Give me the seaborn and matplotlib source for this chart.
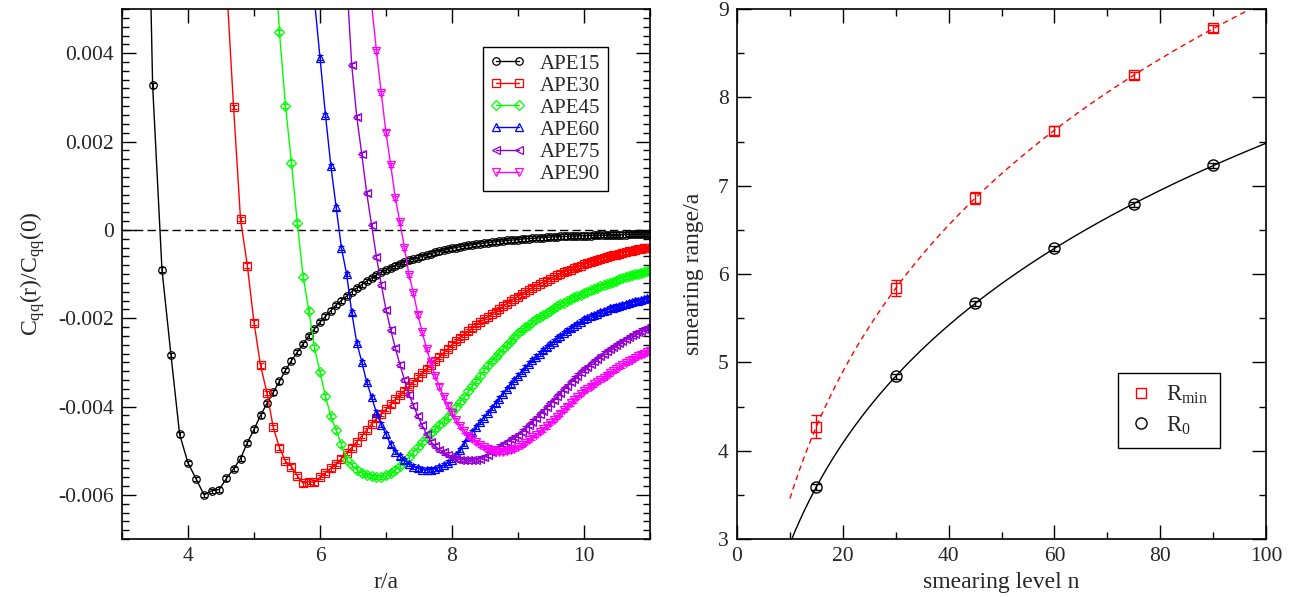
import numpy as np
import matplotlib
matplotlib.use("Agg")
import matplotlib.pyplot as plt
from matplotlib.lines import Line2D
from matplotlib.ticker import MultipleLocator, FuncFormatter
import seaborn as sns

# ---- left panel: C_qq(r)/C_qq(0), points sit at r/a = sqrt(k), k = k0, k0+1, ...
ape_labels = ["APE15", "APE30", "APE45", "APE60", "APE75", "APE90"]
ape_k0 = [11, 21, 28, 35, 41, 46]
# statistical error of each correlator point (about the same everywhere)
ape_err = [0.00005, 0.00005, 0.00005, 0.00005, 0.00005, 0.00005]

ape15 = [
    0.0139, 0.00327, -0.0009, -0.00283, -0.00463, -0.00528, -0.00564, -0.00600, -0.00591, -0.00588,
    -0.00563, -0.00541, -0.00518, -0.00482, -0.00452, -0.00420, -0.00393, -0.00368, -0.00343, -0.00318,
    -0.00296, -0.00277, -0.00258, -0.00240, -0.00224, -0.00209, -0.00196, -0.00183, -0.00170, -0.00160,
    -0.00150, -0.00140, -0.00132, -0.00124, -0.00116, -0.00109, -0.00102, -0.00096, -0.00091, -0.00086,
    -0.00081, -0.00077, -0.00073, -0.00069, -0.00066, -0.00063, -0.00060, -0.00057, -0.00054, -0.00051,
    -0.00049, -0.00046, -0.00044, -0.00042, -0.00040, -0.00038, -0.00037, -0.00035, -0.00034, -0.00032,
    -0.00031, -0.00030, -0.00029, -0.00028, -0.00027, -0.00026, -0.00025, -0.00024, -0.00023, -0.00023,
    -0.00022, -0.00021, -0.00020, -0.00020, -0.00019, -0.00019, -0.00018, -0.00018, -0.00017, -0.00016,
    -0.00016, -0.00016, -0.00015, -0.00015, -0.00015, -0.00014, -0.00014, -0.00014, -0.00013, -0.00013,
    -0.00013, -0.00013, -0.00012, -0.00012, -0.00012, -0.00012, -0.00012, -0.00011, -0.00011, -0.00011,
    -0.00011, -0.00011, -0.00011, -0.00010, -0.00010, -0.00010, -0.00010, -0.00010, -0.00010, -0.00010,
    -0.00010,
]
ape30 = [
    0.0056, 0.00278, 0.00024, -0.00081, -0.00210, -0.00307, -0.00369, -0.00447, -0.00493, -0.00524,
    -0.00536, -0.00557, -0.00574, -0.00570, -0.00572, -0.00560, -0.00550, -0.00540, -0.00530, -0.00518,
    -0.00505, -0.00493, -0.00480, -0.00467, -0.00453, -0.00440, -0.00427, -0.00416, -0.00406, -0.00395,
    -0.00384, -0.00374, -0.00364, -0.00354, -0.00344, -0.00334, -0.00324, -0.00314, -0.00305, -0.00296,
    -0.00287, -0.00278, -0.00269, -0.00260, -0.00252, -0.00244, -0.00237, -0.00230, -0.00223, -0.00216,
    -0.00209, -0.00203, -0.00197, -0.00191, -0.00185, -0.00179, -0.00173, -0.00167, -0.00161, -0.00156,
    -0.00151, -0.00146, -0.00141, -0.00136, -0.00131, -0.00127, -0.00123, -0.00119, -0.00115, -0.00111,
    -0.00107, -0.00103, -0.00099, -0.00096, -0.00093, -0.00090, -0.00087, -0.00084, -0.00081, -0.00078,
    -0.00076, -0.00073, -0.00071, -0.00068, -0.00066, -0.00064, -0.00062, -0.00060, -0.00058, -0.00056,
    -0.00054, -0.00052, -0.00050, -0.00049, -0.00047, -0.00046, -0.00044, -0.00043, -0.00042, -0.00041,
    -0.00040,
]
ape45 = [
    0.0069, 0.00448, 0.00281,
    0.00152, 0.00015, -0.00106, -0.00183, -0.00266, -0.00322, -0.00377, -0.00422, -0.00454, -0.00486,
    -0.00520, -0.00533, -0.00543, -0.00550, -0.00555, -0.00558, -0.00560, -0.00559, -0.00556, -0.00550,
    -0.00543, -0.00535, -0.00525, -0.00515, -0.00504, -0.00492, -0.00481, -0.00470, -0.00460, -0.00450,
    -0.00441, -0.00432, -0.00423, -0.00413, -0.00402, -0.00390, -0.00378, -0.00366, -0.00354, -0.00342,
    -0.00330, -0.00318, -0.00307, -0.00297, -0.00287, -0.00278, -0.00269, -0.00260, -0.00251, -0.00242,
    -0.00233, -0.00227, -0.00221, -0.00215, -0.00209, -0.00203, -0.00198, -0.00193, -0.00188, -0.00183,
    -0.00178, -0.00173, -0.00169, -0.00165, -0.00161, -0.00157, -0.00153, -0.00150, -0.00147, -0.00143,
    -0.00140, -0.00137, -0.00134, -0.00131, -0.00128, -0.00125, -0.00122, -0.00120, -0.00117, -0.00115,
    -0.00112, -0.00110, -0.00107, -0.00105, -0.00103, -0.00101, -0.00099, -0.00097, -0.00095, -0.00093,
    -0.00092,
]
ape60 = [
    0.0052, 0.0039, 0.0026, 0.00145, 0.00051, -0.00041,
    -0.00100, -0.00187, -0.00256, -0.00299, -0.00345, -0.00379, -0.00414, -0.00441, -0.00463, -0.00486,
    -0.00503, -0.00513, -0.00522, -0.00530, -0.00536, -0.00540, -0.00543, -0.00544, -0.00543, -0.00541,
    -0.00538, -0.00533, -0.00527, -0.00520, -0.00510, -0.00498, -0.00484, -0.00470, -0.00458, -0.00446,
    -0.00435, -0.00425, -0.00415, -0.00404, -0.00393, -0.00382, -0.00371, -0.00360, -0.00350, -0.00340,
    -0.00330, -0.00321, -0.00312, -0.00303, -0.00295, -0.00287, -0.00280, -0.00273, -0.00266, -0.00259,
    -0.00253, -0.00246, -0.00240, -0.00234, -0.00228, -0.00223, -0.00218, -0.00213, -0.00208, -0.00203,
    -0.00199, -0.00196, -0.00193, -0.00190, -0.00187, -0.00184, -0.00181, -0.00178, -0.00176, -0.00174,
    -0.00172, -0.00170, -0.00168, -0.00166, -0.00164, -0.00162, -0.00160, -0.00159, -0.00157, -0.00155,
    -0.00154,
]
ape75 = [
    0.0057, 0.00373, 0.00255, 0.00171, 0.00083, 0.00010, -0.00062, -0.00124, -0.00181, -0.00226,
    -0.00268, -0.00305, -0.00340, -0.00373, -0.00398, -0.00422, -0.00443, -0.00463, -0.00480, -0.00490,
    -0.00498, -0.00504, -0.00509, -0.00514, -0.00518, -0.00520, -0.00521, -0.00522, -0.00522, -0.00521,
    -0.00518, -0.00514, -0.00509, -0.00503, -0.00497, -0.00491, -0.00485, -0.00480, -0.00474, -0.00469,
    -0.00464, -0.00457, -0.00450, -0.00442, -0.00434, -0.00426, -0.00418, -0.00410, -0.00401, -0.00393,
    -0.00385, -0.00377, -0.00369, -0.00361, -0.00353, -0.00345, -0.00337, -0.00330, -0.00323, -0.00316,
    -0.00310, -0.00304, -0.00298, -0.00292, -0.00286, -0.00280, -0.00275, -0.00270, -0.00265, -0.00261,
    -0.00256, -0.00252, -0.00247, -0.00243, -0.00239, -0.00235, -0.00231, -0.00228, -0.00225, -0.00222,
    -0.00219,
]
ape90 = [
    0.0051, 0.00405, 0.00310, 0.00220, 0.00147,
    0.00072, 0.00017, -0.00041, -0.00102, -0.00143, -0.00192, -0.00232, -0.00270, -0.00300, -0.00331,
    -0.00355, -0.00378, -0.00398, -0.00415, -0.00430, -0.00444, -0.00456, -0.00466, -0.00474, -0.00481,
    -0.00487, -0.00492, -0.00496, -0.00499, -0.00501, -0.00502, -0.00502, -0.00501, -0.00499, -0.00496,
    -0.00492, -0.00487, -0.00482, -0.00476, -0.00470, -0.00464, -0.00458, -0.00452, -0.00445, -0.00438,
    -0.00431, -0.00424, -0.00416, -0.00408, -0.00400, -0.00393, -0.00386, -0.00379, -0.00372, -0.00365,
    -0.00360, -0.00355, -0.00350, -0.00345, -0.00340, -0.00335, -0.00330, -0.00325, -0.00320, -0.00316,
    -0.00311, -0.00307, -0.00302, -0.00298, -0.00294, -0.00290, -0.00286, -0.00283, -0.00280, -0.00277,
    -0.00275,
]
ape_values = [ape15, ape30, ape45, ape60, ape75, ape90]

# ---- right panel: smearing range vs smearing level
smear_n = [15, 30, 45, 60, 75, 90]
r_zero = [3.59, 4.84, 5.67, 6.29, 6.79, 7.23]
r_zero_err = [0.03, 0.03, 0.03, 0.03, 0.03, 0.03]
r_min = [4.27, 5.84, 6.86, 7.62, 8.25, 8.78]
r_min_err = [0.13, 0.09, 0.07, 0.05, 0.04, 0.04]

ape_colors = ["black", "red", "#00ff00", "blue", "#9400d3", "magenta"]
ape_markers = ["o", "s", "D", "^", "<", "v"]

sns.set_style("ticks")
plt.rcParams["font.family"] = ["Liberation Serif", "DejaVu Serif"]
plt.rcParams["mathtext.fontset"] = "custom"
plt.rcParams["mathtext.rm"] = "Liberation Serif"
plt.rcParams["mathtext.it"] = "Liberation Serif:italic"
plt.rcParams["axes.unicode_minus"] = False

W, H = 1291, 597
fig = plt.figure(figsize=(W / 100, H / 100), dpi=100)
ax1 = fig.add_axes([122 / W, 58 / H, 528 / W, 530 / H])
ax2 = fig.add_axes([737 / W, 58 / H, 529 / W, 530 / H])

# left panel
ax1.axhline(0, color="black", lw=1, ls=(0, (6, 3)), zorder=1)
for label, k0, vals, err, c, m in zip(ape_labels, ape_k0, ape_values, ape_err,
                                      ape_colors, ape_markers):
    r = np.sqrt(np.arange(k0, k0 + len(vals)))
    ms = 4.6 if m == "D" else 5.4
    sns.lineplot(x=r, y=vals, ax=ax1, color=c, marker=m, label=label, lw=1,
                 ms=ms, mfc="none", mec=c, mew=0.9, errorbar=None, zorder=2)
    ax1.errorbar(r, vals, yerr=err, fmt="none", ecolor=c, elinewidth=0.8,
                 capsize=2.2, capthick=0.8, zorder=2)
for line in ax1.get_lines():
    if line.get_marker() in ape_markers:
        line.set_markerfacecolor("none")
        line.set_markeredgecolor(line.get_color())

ax1.set_xlim(3, 11)
ax1.set_ylim(-0.007, 0.005)
ax1.xaxis.set_major_locator(MultipleLocator(2))
ax1.xaxis.set_minor_locator(MultipleLocator(1))
ax1.yaxis.set_major_locator(MultipleLocator(0.002))
ax1.yaxis.set_minor_locator(MultipleLocator(0.0002))
ax1.yaxis.set_major_formatter(FuncFormatter(lambda v, _: "0" if abs(v) < 1e-12 else f"{v:.3f}"))
ax1.set_xlabel("r/a", fontsize=17, labelpad=4)
ax1.set_ylabel(r"C$_\mathregular{qq}$(r)/C$_\mathregular{qq}$(0)", fontsize=17, labelpad=8)

ape_handles = [Line2D([], [], color=c, lw=1, marker=m, ms=(4.6 if m == "D" else 5.4),
                      mfc="none", mec=c, mew=0.9)
               for c, m in zip(ape_colors, ape_markers)]
leg1 = ax1.legend(ape_handles, ape_labels, loc="upper left", bbox_to_anchor=(0.683, 0.929),
                  numpoints=2, handlelength=1.7, handletextpad=0.7, labelspacing=0.12,
                  borderpad=0.35, fontsize=15, fancybox=False, framealpha=1,
                  edgecolor="black", borderaxespad=0)
leg1.get_frame().set_linewidth(1)

# right panel: quadratic-in-log(n) fits through the points
log_n = np.log(smear_n)
fit_zero = np.polyfit(log_n, r_zero, 2)
fit_min = np.polyfit(log_n, r_min, 2)
n_fit = np.linspace(10, 100, 300)
sns.lineplot(x=n_fit, y=np.polyval(fit_zero, np.log(n_fit)), ax=ax2, color="black", lw=1)
sns.lineplot(x=n_fit, y=np.polyval(fit_min, np.log(n_fit)), ax=ax2, color="red", lw=1,
             ls=(0, (4, 3)))
ax2.errorbar(smear_n, r_min, yerr=r_min_err, fmt="s", ms=7.5, mfc="none", mec="red",
             ecolor="red", elinewidth=1, capsize=3.5, capthick=1, mew=1, zorder=3)
ax2.errorbar(smear_n, r_zero, yerr=r_zero_err, fmt="o", ms=8, mfc="none", mec="black",
             ecolor="black", elinewidth=1, capsize=3.5, capthick=1, mew=1, zorder=3)

ax2.set_xlim(0, 100)
ax2.set_ylim(3, 9)
ax2.xaxis.set_major_locator(MultipleLocator(20))
ax2.xaxis.set_minor_locator(MultipleLocator(10))
ax2.yaxis.set_major_locator(MultipleLocator(1))
ax2.yaxis.set_minor_locator(MultipleLocator(0.5))
ax2.set_xlabel("smearing level n", fontsize=17, labelpad=4)
ax2.set_ylabel("smearing range/a", fontsize=17, labelpad=10)

proxy = [Line2D([], [], ls="", marker="s", ms=7, mfc="none", mec="red", mew=1),
         Line2D([], [], ls="", marker="o", ms=8, mfc="none", mec="black", mew=1)]
leg2 = ax2.legend(proxy, [r"R$_\mathregular{min}$", r"R$_\mathregular{0}$"], loc="upper left",
                  bbox_to_anchor=(0.72, 0.314), handlelength=1.0, handletextpad=0.6,
                  labelspacing=0.35, borderpad=0.5, fontsize=16.5, fancybox=False,
                  framealpha=1, edgecolor="black", borderaxespad=0)
leg2.get_frame().set_linewidth(1)

for ax in (ax1, ax2):
    ax.tick_params(which="both", direction="in", top=True, right=True, width=1,
                   labelsize=15.5, pad=6, color="black")
    ax.tick_params(which="major", length=10)
    ax.tick_params(which="minor", length=5)
    for s in ax.spines.values():
        s.set_linewidth(1.2)
        s.set_color("black")

fig.savefig("out.png", dpi=100)
